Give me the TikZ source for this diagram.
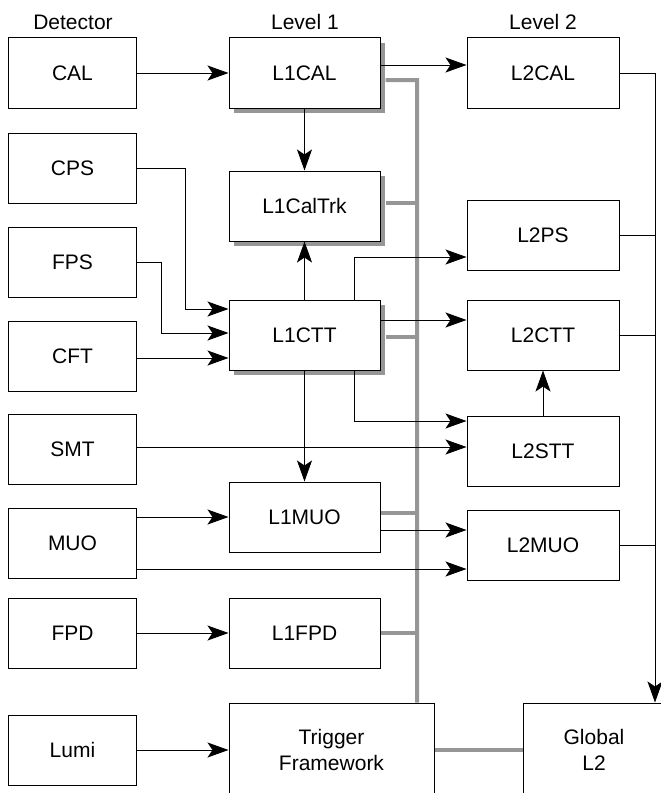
\documentclass[tikz,border=0pt]{standalone}
\usepackage{fontspec}
\setmainfont{Liberation Sans}
\usetikzlibrary{arrows.meta,shadows}
\definecolor{busgray}{RGB}{150,150,150}
\begin{document}
\begin{tikzpicture}[x=1bp,y=-1bp,
  box/.style={draw=black, line width=1bp, fill=white, inner sep=0pt, font=\fontsize{21bp}{26bp}\selectfont, align=center},
  det/.style={box, minimum width=127bp, minimum height=70bp},
  lone/.style={box, minimum width=151bp, minimum height=70bp},
  ltwo/.style={box, minimum width=152bp, minimum height=70bp},
  shad/.style={drop shadow={shadow xshift=5bp, shadow yshift=-5bp, fill=busgray, opacity=1}},
  conn/.style={line width=0.9bp, -{Stealth[length=21bp,width=15bp,inset=5bp]}},
  wire/.style={line width=0.9bp},
  bus/.style={line width=4bp, draw=busgray},
  hdr/.style={font=\fontsize{21bp}{26bp}\selectfont, inner sep=0pt}]
\useasboundingbox (0,0) rectangle (661,793);
\clip (0,0) rectangle (661,793);

% headers
\node[hdr] (hdet) at (73,22) {Detector};
\node[hdr] (hl1) at (305,22) {Level 1};
\node[hdr] (hl2) at (543,22) {Level 2};

% detector column
\node[det] (CAL)  at (72.5,73)    {CAL};
\node[det] (CPS)  at (72.5,168)   {CPS};
\node[det] (FPS)  at (72.5,262)   {FPS};
\node[det] (CFT)  at (72.5,356)   {CFT};
\node[det] (SMT)  at (72.5,449.5) {SMT};
\node[det] (MUO)  at (72.5,543.5) {MUO};
\node[det] (FPD)  at (72.5,633)   {FPD};
\node[det] (Lumi) at (72.5,750)   {Lumi};

% level 1
\node[lone,shad] (L1CAL)    at (304.5,73)  {L1CAL};
\node[lone,shad] (L1CalTrk) at (304.5,206) {L1CalTrk};
\node[lone,shad] (L1CTT)    at (304.5,335) {L1CTT};
\node[lone] (L1MUO) at (304.5,517) {L1MUO};
\node[lone] (L1FPD) at (304.5,633) {L1FPD};
\node[box, minimum width=205bp, minimum height=94bp] (TF) at (331.5,750) {Trigger\\Framework};

% level 2
\node[ltwo] (L2CAL) at (543,73)  {L2CAL};
\node[ltwo] (L2PS)  at (543,235) {L2PS};
\node[ltwo] (L2CTT) at (543,335) {L2CTT};
\node[ltwo] (L2STT) at (543,451) {L2STT};
\node[ltwo] (L2MUO) at (543,545) {L2MUO};
\node[box, minimum width=142bp, minimum height=94bp] (GL2) at (594,750) {Global\\L2};

% gray bus
\coordinate (gb) at (417,80);
\draw[bus] ([xshift=5bp,yshift=-7bp]L1CAL.east) -- (gb) -- (gb |- TF.north);
\coordinate (g2) at ([xshift=5bp,yshift=3bp]L1CalTrk.east);
\draw[bus] (g2) -- (g2 -| gb);
\coordinate (g3) at ([xshift=5bp,yshift=-2bp]L1CTT.east);
\draw[bus] (g3) -- (g3 -| gb);
\coordinate (g4) at ([yshift=4bp]L1MUO.east);
\draw[bus] (g4) -- (g4 -| gb);
\draw[bus] (L1FPD.east) -- (L1FPD.east -| gb);
\draw[bus] (TF.east) -- (GL2.west);

% detector to level 1
\draw[conn] (CAL) -- (L1CAL);
\draw[conn] (CPS.east) -- ++(49,0) |- ([yshift=26bp]L1CTT.west);
\draw[conn] (FPS.east) -- ++(25,0) |- ([yshift=2bp]L1CTT.west);
\coordinate (cftin) at ([yshift=-23bp]L1CTT.west);
\draw[conn] (CFT.east |- cftin) -- (cftin);
\draw[conn] (MUO.east |- L1MUO) -- (L1MUO.west);
\draw[conn] (FPD) -- (L1FPD);
\draw[conn] (Lumi) -- (TF);

% level 1 internal
\draw[conn] (L1CAL) -- (L1CalTrk);
\draw[conn] (L1CTT) -- (L1CalTrk);
\draw[conn] (L1CTT) -- (L1MUO);

% level 1 to level 2
\draw[conn] ([yshift=8bp]L1CAL.east) -- ([yshift=8bp]L2CAL.west);
\draw[conn] ([xshift=49.5bp]L1CTT.north) |- ([yshift=-22bp]L2PS.west);
\draw[conn] ([yshift=15bp]L1CTT.east) -- ([yshift=15bp]L2CTT.west);
\draw[conn] ([xshift=49.5bp]L1CTT.south) |- ([yshift=30bp]L2STT.west);
\coordinate (smtin) at ([yshift=4bp]L2STT.west);
\draw[conn] (SMT.east |- smtin) -- (smtin);
\draw[conn] (L2STT) -- (L2CTT);
\coordinate (m1) at ([yshift=15bp]L2MUO.west);
\draw[conn] (L1MUO.east |- m1) -- (m1);
\coordinate (m2) at ([yshift=-24bp]L2MUO.west);
\draw[conn] (MUO.east |- m2) -- (m2);

% level 2 to global
\coordinate (rb) at (655,73);
\draw[wire] (L2CAL.east) -- (rb);
\draw[conn] (rb) -- (rb |- GL2.north);
\draw[wire] (L2PS.east) -- (L2PS.east -| rb);
\draw[wire] (L2CTT.east) -- (L2CTT.east -| rb);
\draw[wire] (L2MUO.east) -- (L2MUO.east -| rb);
\end{tikzpicture}
\end{document}
